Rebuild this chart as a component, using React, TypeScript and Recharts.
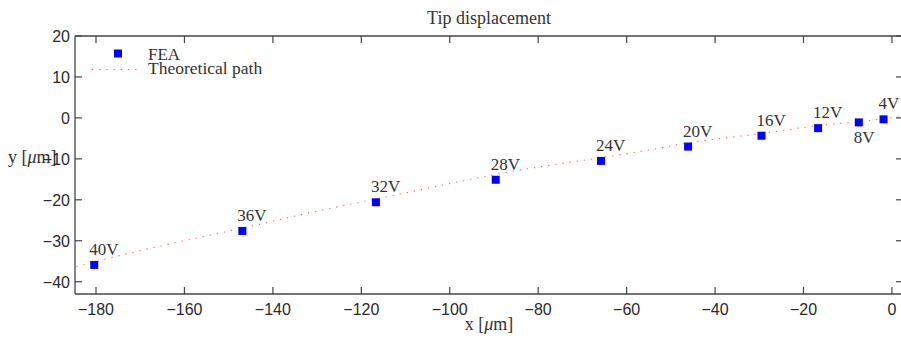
import React from "react";
import { ScatterChart, Scatter, XAxis, YAxis, Legend } from "recharts";

// FEA tip positions for each drive voltage
const voltages = ["40V", "36V", "32V", "28V", "24V", "20V", "16V", "12V", "8V", "4V"];
const feaX = [-180.4, -146.9, -116.7, -89.6, -65.8, -46.1, -29.5, -16.7, -7.5, -1.9];
const feaY = [-35.9, -27.6, -20.6, -15.1, -10.5, -7.0, -4.35, -2.5, -1.1, -0.35];

// theoretical path
const pathX = [-184.4, -174.6, -141.5, -133.9, -111.3, -90.2, -54.8, -46.5, -29.5, -16.8, -7.6, -1.9, 1.8];
const pathY = [-36.3, -33.6, -25.6, -23.7, -18.6, -13.9, -7.8, -6.2, -3.8, -1.9, -0.9, -0.2, 0.3];

const xTicks = [-180, -160, -140, -120, -100, -80, -60, -40, -20, 0];
const yTicks = [-40, -30, -20, -10, 0, 10, 20];
const seriesNames = ["FEA", "Theoretical path"];
const labelsBelow = ["8V"];

const feaData = feaX.map((x, i) => ({ x, y: feaY[i], label: voltages[i] }));
const pathData = pathX.map((x, i) => ({ x, y: pathY[i] }));

const AXIS = "#444";
const SERIF = "'Liberation Serif', 'Times New Roman', serif";
const SANS = "'Liberation Sans', Arial, sans-serif";
const MARK = "#0000ff";
const PATH = "#ff5a5a";

const BottomTick = (p: any) => (
  <g>
    <line x1={p.x} y1={p.y} x2={p.x} y2={p.y - 7} stroke={AXIS} strokeWidth={1.2} />
    <text x={p.x} y={p.y + 21} textAnchor="middle" fontFamily={SANS} fontSize={16} fill="#2a2a2a">
      {String(p.payload.value).replace("-", "\u2212")}
    </text>
  </g>
);

const TopTick = (p: any) => (
  <line x1={p.x} y1={p.y} x2={p.x} y2={p.y + 7} stroke={AXIS} strokeWidth={1.2} />
);

const LeftTick = (p: any) => (
  <g>
    <line x1={p.x} y1={p.y} x2={p.x + 7} y2={p.y} stroke={AXIS} strokeWidth={1.2} />
    <text x={p.x - 5} y={p.y + 6} textAnchor="end" fontFamily={SANS} fontSize={16} fill="#2a2a2a">
      {String(p.payload.value).replace("-", "\u2212")}
    </text>
  </g>
);

const RightTick = (p: any) => (
  <line x1={p.x} y1={p.y} x2={p.x - 7} y2={p.y} stroke={AXIS} strokeWidth={1.2} />
);

const FeaShape = (p: any) => {
  const below = labelsBelow.includes(p.payload.label);
  return (
    <g>
      <rect x={p.cx - 4} y={p.cy - 4} width={8} height={8} fill={MARK} />
      <text
        x={p.cx - 5}
        y={below ? p.cy + 21 : p.cy - 10}
        fontFamily={SERIF}
        fontSize={17}
        fill="#333"
      >
        {p.payload.label}
      </text>
    </g>
  );
};

const NoShape = () => <g />;

const LegendBox = () => (
  <svg width={300} height={90} style={{ position: "absolute", left: 0, top: 0 }}>
    <rect x={114} y={49.5} width={8} height={8} fill={MARK} />
    <text x={148} y={60} fontFamily={SERIF} fontSize={17} fill="#333">
      {seriesNames[0]}
    </text>
    <line x1={92} y1={69.5} x2={141} y2={69.5} stroke={PATH} strokeWidth={1.1} strokeDasharray="1.2 6" />
    <text x={148} y={74} fontFamily={SERIF} fontSize={17.5} fill="#333">
      {seriesNames[1]}
    </text>
  </svg>
);

const MuLabel = (prefix: string) => (
  <>
    {prefix} [<tspan fontStyle="italic">μ</tspan>m]
  </>
);

export default function App() {
  return (
    <div style={{ position: "absolute", left: 0, top: 0, width: 901, height: 343, overflow: "hidden", background: "#fff" }}>
      <ScatterChart width={905} height={343} margin={{ top: 6, right: 1, bottom: 9, left: 15 }}>
        <XAxis
          xAxisId="b"
          dataKey="x"
          type="number"
          domain={[-184.75, 2.5]}
          allowDataOverflow
          ticks={xTicks}
          interval={0}
          height={40}
          tickSize={0}
          tickMargin={0}
          tick={<BottomTick />}
          axisLine={{ stroke: AXIS, strokeWidth: 1.3 }}
          label={{
            content: (props: any) => (
              <text
                x={props.viewBox.x + props.viewBox.width / 2}
                y={props.viewBox.y + 36}
                textAnchor="middle"
                fontFamily={SERIF}
                fontSize={18}
                fill="#333"
              >
                {MuLabel("x")}
              </text>
            ),
          }}
        />
        <XAxis
          xAxisId="t"
          orientation="top"
          dataKey="x"
          type="number"
          domain={[-184.75, 2.5]}
          allowDataOverflow
          ticks={xTicks}
          interval={0}
          height={30}
          tickSize={0}
          tickMargin={0}
          tick={<TopTick />}
          axisLine={{ stroke: AXIS, strokeWidth: 1.3 }}
          label={{
            content: (props: any) => (
              <text
                x={props.viewBox.x + props.viewBox.width / 2}
                y={props.viewBox.y + 18}
                textAnchor="middle"
                fontFamily={SERIF}
                fontSize={18}
                fill="#333"
              >
                Tip displacement
              </text>
            ),
          }}
        />
        <YAxis
          yAxisId="l"
          dataKey="y"
          type="number"
          domain={[-43, 20]}
          allowDataOverflow
          ticks={yTicks}
          interval={0}
          width={60}
          tickSize={0}
          tickMargin={0}
          tick={<LeftTick />}
          axisLine={{ stroke: AXIS, strokeWidth: 1.3 }}
          label={{
            content: (props: any) => (
              <text
                x={8}
                y={props.viewBox.y + props.viewBox.height / 2 - 2}
                fontFamily={SERIF}
                fontSize={18}
                fill="#333"
              >
                {MuLabel("y")}
              </text>
            ),
          }}
        />
        <YAxis
          yAxisId="r"
          orientation="right"
          dataKey="y"
          type="number"
          domain={[-43, 20]}
          allowDataOverflow
          ticks={yTicks}
          interval={0}
          width={1}
          tickSize={0}
          tickMargin={0}
          tick={<RightTick />}
          axisLine={{ stroke: AXIS, strokeWidth: 1.3 }}
        />
        <Legend
          layout="horizontal"
          verticalAlign="middle"
          align="center"
          wrapperStyle={{ position: "absolute", left: 0, top: 0, width: 300, height: 90 }}
          content={() => <LegendBox />}
        />
        <Scatter
          name={seriesNames[1]}
          data={pathData}
          xAxisId="b"
          yAxisId="l"
          line={{ stroke: PATH, strokeWidth: 1.1, strokeDasharray: "1.2 6" }}
          lineJointType="monotoneX"
          shape={<NoShape />}
          isAnimationActive={false}
        />
        <Scatter
          name={seriesNames[0]}
          data={feaData}
          xAxisId="b"
          yAxisId="l"
          shape={<FeaShape />}
          isAnimationActive={false}
        />
      </ScatterChart>
    </div>
  );
}
